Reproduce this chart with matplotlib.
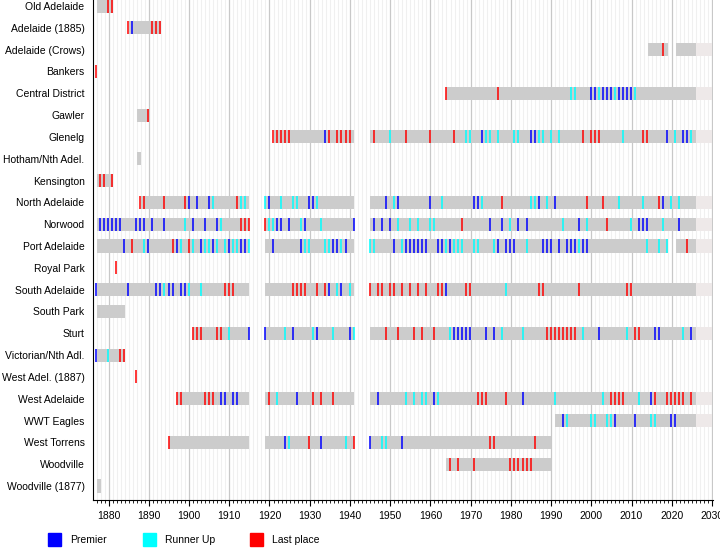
import numpy as np
import matplotlib.pyplot as plt
from matplotlib.patches import Rectangle

plt.rcParams['font.family'] = ['Liberation Sans', 'DejaVu Sans']

clubs = ["Old Adelaide", "Adelaide (1885)", "Adelaide (Crows)", "Bankers", "Central District",
         "Gawler", "Glenelg", "Hotham/Nth Adel.", "Kensington", "North Adelaide", "Norwood",
         "Port Adelaide", "Royal Park", "South Adelaide", "South Park", "Sturt",
         "Victorian/Nth Adl.", "West Adel. (1887)", "West Adelaide", "WWT Eagles",
         "West Torrens", "Woodville", "Woodville (1877)"]

# seasons in the competition (start, end)
spans = [
    [(1877, 1881)],
    [(1885, 1893)],
    [(2014, 2019), (2021, 2026)],
    [],
    [(1964, 2026)],
    [(1887, 1890)],
    [(1921, 1941), (1945, 2026)],
    [(1887, 1888)],
    [(1877, 1881)],
    [(1888, 1915), (1919, 1941), (1945, 2026)],
    [(1877, 1915), (1919, 1941), (1945, 2026)],
    [(1877, 1915), (1919, 1941), (1945, 2019), (2021, 2026)],
    [],
    [(1877, 1915), (1919, 1941), (1945, 2026)],
    [(1877, 1884)],
    [(1901, 1915), (1919, 1941), (1945, 2026)],
    [(1877, 1884)],
    [],
    [(1897, 1915), (1919, 1941), (1945, 2026)],
    [(1991, 2026)],
    [(1895, 1915), (1919, 1941), (1945, 1990)],
    [(1964, 1990)],
    [(1877, 1878)],
]

# clubs still playing (future block to 2030)
current = ["Adelaide (Crows)", "Central District", "Glenelg", "North Adelaide", "Norwood",
           "Port Adelaide", "South Adelaide", "Sturt", "West Adelaide", "WWT Eagles"]

premier = [
    [], [1886], [], [], [2000, 2001, 2003, 2004, 2005, 2007, 2008, 2009, 2010],
    [], [1934, 1973, 1985, 1986, 2019, 2023, 2024], [], [],
    [1900, 1902, 1905, 1920, 1930, 1931, 1949, 1952, 1960, 1971, 1972, 1987, 1991, 2018],
    [1878, 1879, 1880, 1881, 1882, 1883, 1887, 1888, 1889, 1891, 1894, 1901, 1904, 1907,
     1922, 1923, 1925, 1929, 1941, 1946, 1948, 1950, 1975, 1978, 1982, 1984, 1997,
     2012, 2013, 2014, 2022],
    [1884, 1890, 1897, 1903, 1906, 1910, 1913, 1914, 1921, 1928, 1936, 1937, 1939, 1951,
     1954, 1955, 1956, 1957, 1958, 1959, 1962, 1963, 1965, 1977, 1979, 1980, 1981,
     1988, 1989, 1990, 1992, 1994, 1995, 1996, 1998, 1999],
    [],
    [1877, 1885, 1892, 1893, 1895, 1896, 1898, 1899, 1935, 1938, 1964],
    [],
    [1915, 1919, 1926, 1932, 1940, 1966, 1967, 1968, 1969, 1970, 1974, 1976, 2002, 2016, 2017, 2025],
    [1877], [],
    [1908, 1909, 1911, 1912, 1927, 1947, 1961, 1983, 2015],
    [1993, 2006, 2011, 2020, 2021],
    [1924, 1933, 1945, 1953],
    [], [],
]

runner_up = [
    [], [], [], [], [1995, 1996, 2002, 2006, 2011],
    [], [1950, 1969, 1970, 1974, 1975, 1977, 1981, 1982, 1987, 1988, 1990, 1992, 2008, 2021, 2025],
    [], [],
    [1906, 1913, 1914, 1919, 1923, 1926, 1927, 1932, 1951, 1963, 1973, 1985, 1986, 1989,
     2007, 2013, 2020, 2022],
    [1899, 1908, 1920, 1921, 1928, 1933, 1952, 1955, 1957, 1960, 1961, 1980, 1993, 1999, 2010, 2018],
    [1889, 1898, 1901, 1904, 1905, 1907, 1909, 1911, 1912, 1915, 1929, 1930, 1934, 1935, 1938,
     1945, 1946, 1953, 1964, 1966, 1967, 1968, 1971, 1972, 1976, 1984, 1997, 2014, 2017, 2019],
    [],
    [1894, 1900, 1903, 1937, 1940, 1979],
    [],
    [1910, 1924, 1931, 1936, 1941, 1965, 1978, 1983, 1998, 2009, 2023],
    [1880], [],
    [1922, 1954, 1956, 1958, 1959, 1962, 1991, 2003, 2012],
    [1994, 2000, 2001, 2004, 2005, 2015, 2016],
    [1925, 1939, 1948, 1949],
    [], [],
]

last_place = [
    [1880, 1881], [1885, 1891, 1892, 1893], [2018], [1877], [1964, 1977],
    [1890],
    [1921, 1922, 1923, 1924, 1925, 1935, 1937, 1938, 1939, 1940, 1946, 1954, 1960, 1966,
     1998, 2000, 2001, 2002, 2013, 2014],
    [], [1878, 1879, 1881],
    [1888, 1889, 1894, 1899, 1912, 1978, 1999, 2003, 2017],
    [1913, 1914, 1915, 1919, 1968, 2004],
    [1886, 1896, 1900, 2024],
    [1882],
    [1909, 1910, 1911, 1926, 1927, 1928, 1929, 1932, 1934, 1945, 1947, 1948, 1950, 1951,
     1953, 1955, 1957, 1959, 1962, 1963, 1969, 1970, 1987, 1988, 1997, 2009, 2010],
    [],
    [1901, 1902, 1903, 1907, 1908, 1949, 1952, 1956, 1958, 1961, 1989, 1990, 1991, 1992,
     1993, 1994, 1995, 1996, 2011, 2012],
    [1883, 1884], [1887],
    [1897, 1898, 1904, 1905, 1906, 1920, 1931, 1933, 1936, 1972, 1973, 1974, 1979, 2005,
     2006, 2007, 2008, 2016, 2019, 2020, 2021, 2022, 2023, 2025],
    [],
    [1895, 1930, 1941, 1975, 1976, 1986],
    [1965, 1967, 1971, 1980, 1981, 1982, 1983, 1984, 1985],
    [],
]

fig = plt.figure(figsize=(7.2, 5.5), dpi=100)
ax = fig.add_axes([0.129, 0.091, 0.861, 0.909])

h = 0.3
for i, club in enumerate(clubs):
    for s, e in spans[i]:
        ax.barh(i, e - s, left=s, height=2 * h, color='#cccccc', zorder=2)
    if club in current:
        ax.barh(i, 2030 - 2026, left=2026, height=2 * h, color='#eee9e9', zorder=2)
    for years, col in [(premier[i], 'blue'), (runner_up[i], 'cyan'), (last_place[i], 'red')]:
        if years:
            ax.vlines(np.array(years) - 0.1, i - h, i + h, color=col, lw=1.1, zorder=3)

ax.set_xlim(1876.1, 2030.2)
ax.set_ylim(22.64, -0.275)
ax.set_yticks(range(len(clubs)))
ax.set_yticklabels(clubs, fontsize=7.5)
ax.tick_params(axis='y', length=0, pad=6)
ax.set_xticks(range(1880, 2031, 10))
ax.set_xticks(range(1877, 2031), minor=True)
ax.tick_params(axis='x', which='major', length=4, labelsize=7.5, pad=4)
ax.tick_params(axis='x', which='minor', length=2)
ax.grid(which='minor', axis='x', color='#f0f0f0', lw=0.8, zorder=0)
ax.grid(which='major', axis='x', color='#c8c8c8', lw=0.9, zorder=1)
ax.set_axisbelow(True)
for sp in ['top', 'right']:
    ax.spines[sp].set_visible(False)

# legend
for px, col, lab in [(48, 'blue', 'Premier'), (143, 'cyan', 'Runner Up'), (250, 'red', 'Last place')]:
    fig.add_artist(Rectangle((px / 720, 1 - 546 / 550), 13 / 720, 13 / 550,
                             transform=fig.transFigure, color=col))
    fig.text((px + 22) / 720, 1 - 540 / 550, lab, fontsize=7.5, va='center')

fig.savefig('out.png', dpi=100)
